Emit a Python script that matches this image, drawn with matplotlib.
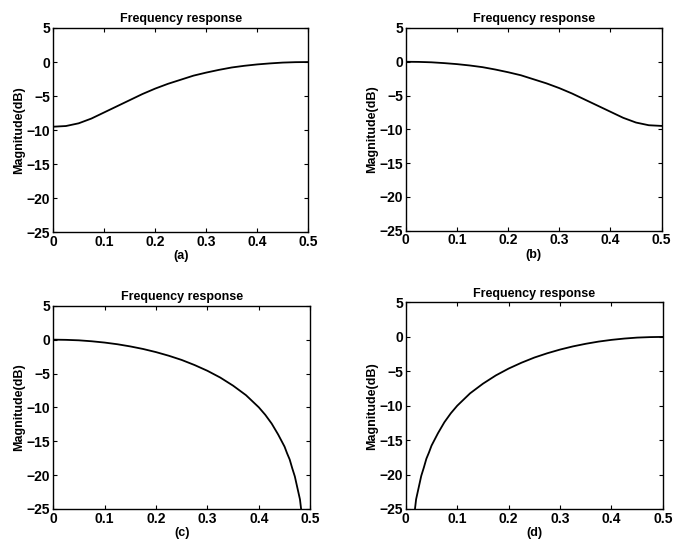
import numpy as np
import matplotlib
matplotlib.use("Agg")
from matplotlib import pyplot as plt

# frequency grid (normalized) and magnitudes, dB
freq = [0, 0.025, 0.05, 0.075, 0.1, 0.125, 0.15, 0.175, 0.2, 0.225, 0.25,
        0.275, 0.3, 0.325, 0.35, 0.375, 0.4, 0.425, 0.45, 0.475, 0.5]
mag_a = [-9.5, -9.4, -9.0, -8.3, -7.4, -6.5, -5.6, -4.7, -3.9, -3.2, -2.6,
         -2.0, -1.55, -1.15, -0.8, -0.55, -0.35, -0.2, -0.08, -0.02, 0.0]
mag_b = mag_a[::-1]

freq_c = [0, 0.025, 0.05, 0.075, 0.1, 0.125, 0.15, 0.175, 0.2, 0.225, 0.25,
          0.275, 0.3, 0.3125, 0.325, 0.3375, 0.35, 0.3625, 0.375, 0.3875, 0.4,
          0.4125, 0.425, 0.4375, 0.45, 0.455, 0.46, 0.465, 0.47, 0.475, 0.48, 0.4825]
mag_c = [0.0, -0.03, -0.1, -0.24, -0.43, -0.68, -1.0, -1.38, -1.84, -2.38, -3.0,
         -3.75, -4.6, -5.1, -5.6, -6.2, -6.8, -7.5, -8.2, -9.1, -10.0,
         -11.1, -12.4, -14.0, -15.8, -16.8, -17.7, -19.0, -20.2, -21.9, -23.6, -25.2]
freq_d = [0.5 - f for f in freq_c]
mag_d = mag_c

labels = ["(a)", "(b)", "(c)", "(d)"]
xticks = [0, 0.1, 0.2, 0.3, 0.4, 0.5]
yticks = [5, 0, -5, -10, -15, -20, -25]

plt.rcParams['font.family'] = ['Liberation Sans', 'DejaVu Sans']
plt.rcParams['font.weight'] = 'bold'

fig = plt.figure(figsize=(6.73, 5.49), dpi=100)
positions = [
    [0.079, 0.577, 0.379, 0.372],
    [0.603, 0.580, 0.380, 0.369],
    [0.079, 0.073, 0.382, 0.370],
    [0.603, 0.073, 0.382, 0.376],
]
series = [(freq, mag_a), (freq, mag_b), (freq_c, mag_c), (freq_d, mag_d)]

for pos, (x, y), lab in zip(positions, series, labels):
    ax = fig.add_axes(pos)
    ax.plot(x, y, color='black', linewidth=1.3)
    ax.set_xlim(0, 0.5)
    ax.set_ylim(-25, 5)
    ax.set_xticks(xticks)
    ax.set_xticklabels([f"{t:g}" for t in xticks])
    ax.set_yticks(yticks)
    ax.tick_params(direction='in', top=True, right=True, length=3, width=0.8, pad=2,
                   labelsize=10)
    ax.set_title("Frequency response", fontsize=9, fontweight='bold', pad=4)
    ax.set_ylabel("Magnitude(dB)", fontsize=9, fontweight='bold', labelpad=1)
    ax.set_xlabel(lab, fontsize=9, fontweight='bold', labelpad=1)
    for s in ax.spines.values():
        s.set_linewidth(1.0)

fig.savefig("out.png", dpi=100)
